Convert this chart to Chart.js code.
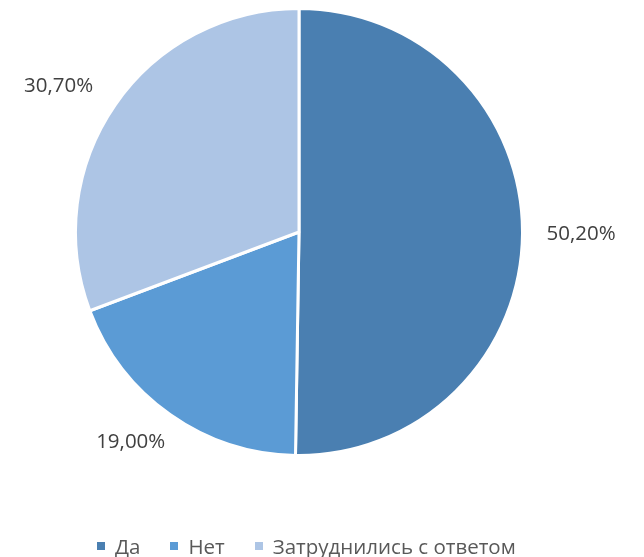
<!DOCTYPE html>
<html>
<head>
<meta charset="utf-8">
<script src="https://cdn.jsdelivr.net/npm/chart.js@4"></script>
<style>
  html, body { margin: 0; padding: 0; background: #fff; }
  #wrap { position: relative; width: 644px; height: 557px; }
  #legend {
    position: absolute; left: 97px; top: 532px;
    display: flex; align-items: center;
    font: 20.5px "Open Sans", sans-serif; color: #595959;
  }
  .item { display: flex; align-items: center; margin-right: 30px; }
  .box { width: 8px; height: 8px; margin-right: 10px; }
</style>
</head>
<body>
<div id="wrap">
  <canvas id="pieChart" width="644" height="557"></canvas>
  <div id="legend"></div>
</div>
<script>
const categories = ['Да', 'Нет', 'Затруднились с ответом'];
const shares = [50.2, 19.0, 30.7];
const labelsText = ['50,20%', '19,00%', '30,70%'];
const colors = ['#4a7fb1', '#5b9bd5', '#adc5e5'];

// percent labels just outside each slice
const outsideLabels = {
  id: 'outsideLabels',
  afterDatasetsDraw(chart) {
    const ctx = chart.ctx;
    const meta = chart.getDatasetMeta(0);
    ctx.save();
    ctx.font = '20.5px "Open Sans", sans-serif';
    ctx.fillStyle = '#404040';
    ctx.textAlign = 'center';
    ctx.textBaseline = 'middle';
    meta.data.forEach((arc, i) => {
      const mid = (arc.startAngle + arc.endAngle) / 2;
      const r = arc.outerRadius + 24;
      const w = ctx.measureText(labelsText[i]).width;
      // left-side labels sit a bit further out
      const k = Math.cos(mid) < 0 ? 0.65 : 0.5;
      const x = arc.x + Math.cos(mid) * (r + w * k);
      const y = arc.y + Math.sin(mid) * (r + 9);
      ctx.fillText(labelsText[i], x, y);
    });
    ctx.restore();
  }
};

// html legend
const legendEl = document.getElementById('legend');
categories.forEach((c, i) => {
  const item = document.createElement('div');
  item.className = 'item';
  item.innerHTML = `<span class="box" style="background:${colors[i]}"></span><span>${c}</span>`;
  legendEl.appendChild(item);
});

const ctx = document.getElementById('pieChart').getContext('2d');
new Chart(ctx, {
  type: 'pie',
  data: {
    labels: categories,
    datasets: [{
      data: shares,
      backgroundColor: colors,
      borderColor: '#ffffff',
      borderWidth: 3
    }]
  },
  options: {
    responsive: false,
    animation: false,
    layout: { padding: { top: 6, left: 74, right: 120, bottom: 99 } },
    plugins: {
      tooltip: { enabled: false },
      legend: { display: false }
    }
  },
  plugins: [outsideLabels]
});
</script>
</body>
</html>
